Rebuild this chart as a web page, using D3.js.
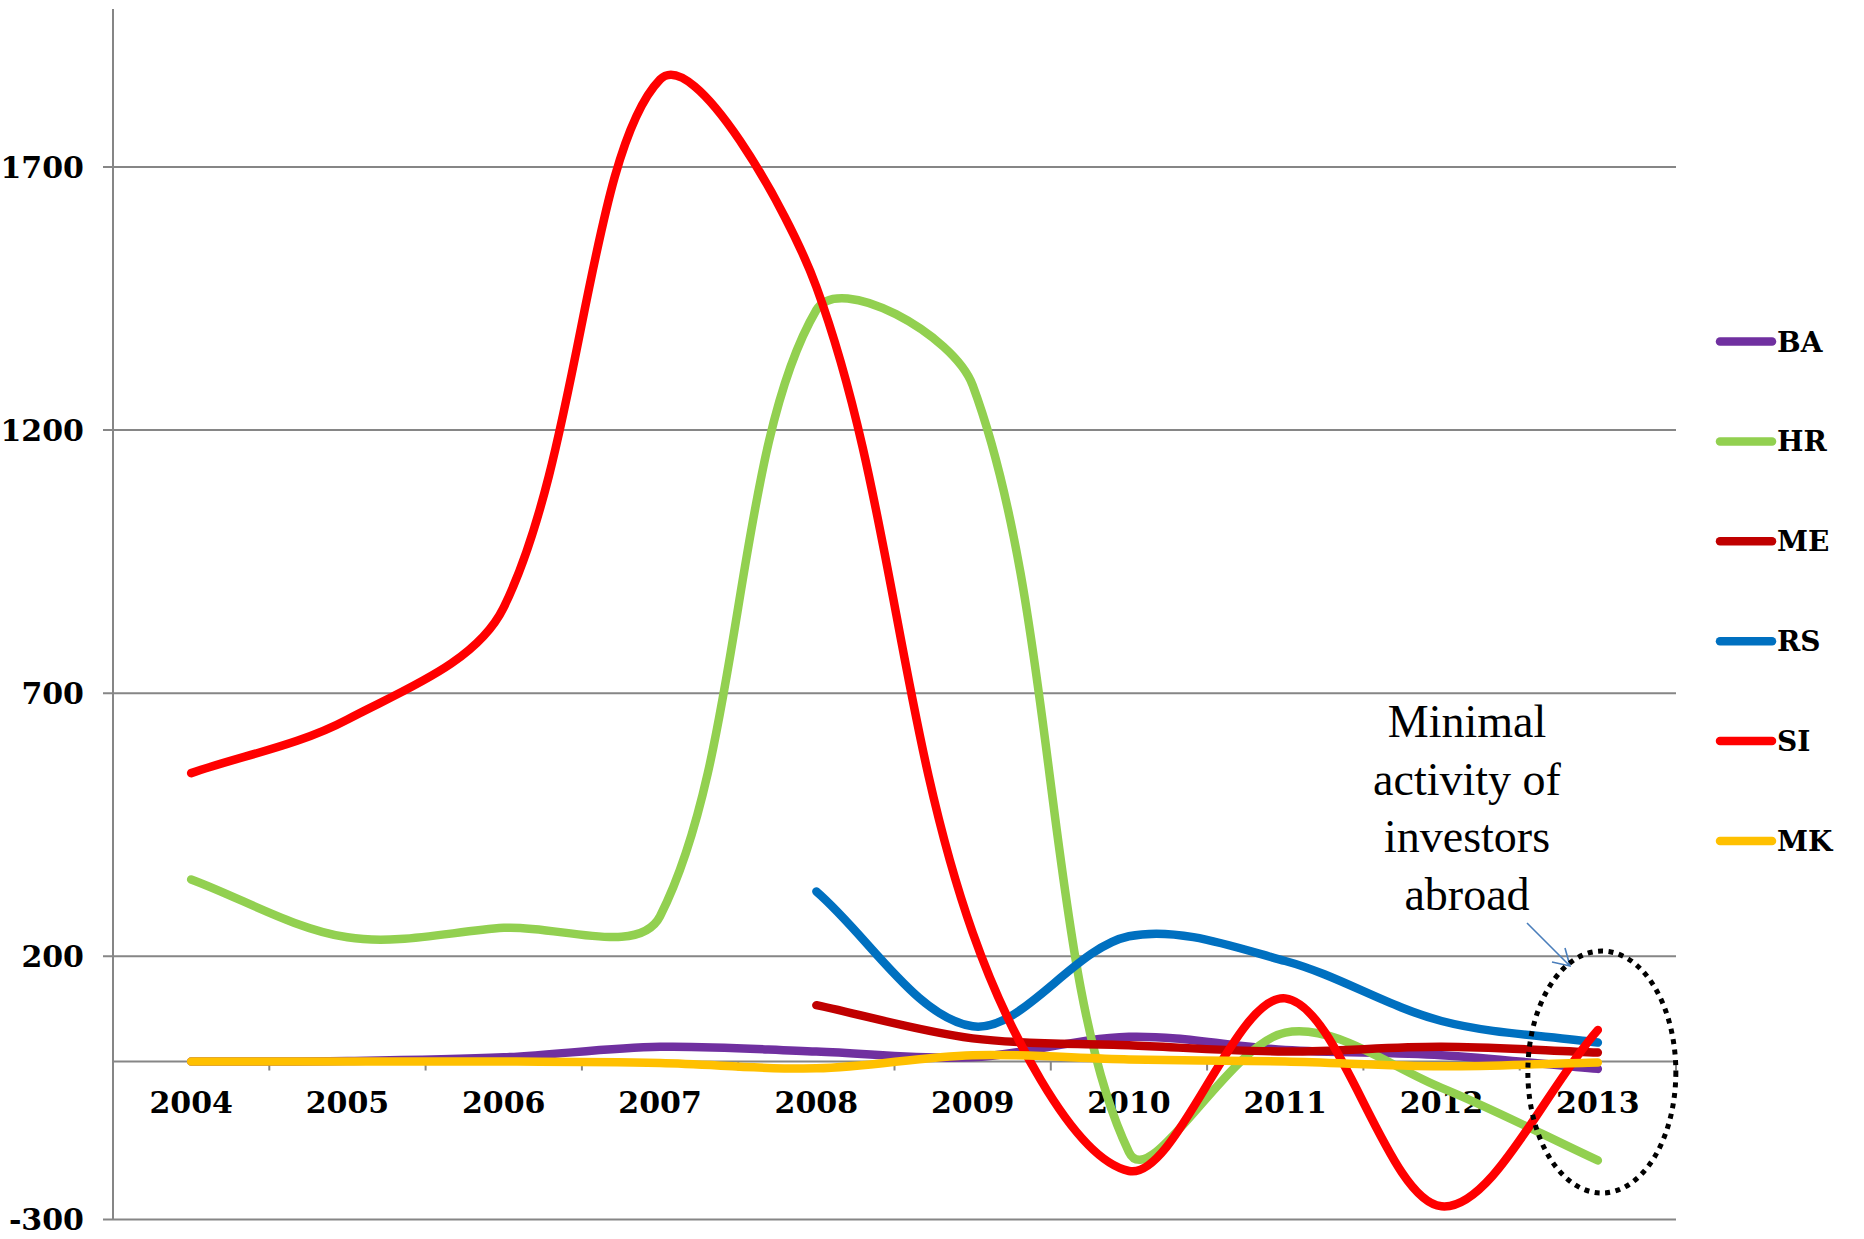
<!DOCTYPE html>
<html>
<head>
<meta charset="utf-8">
<script src="https://cdn.jsdelivr.net/npm/d3@7"></script>
<style>
  html, body { margin: 0; padding: 0; background: #fff; }
  svg { display: block; }
</style>
</head>
<body>
<svg id="chart" width="1864" height="1239"></svg>
<script>
// Outward investment flows by country, 2004-2013
const years = [2004, 2005, 2006, 2007, 2008, 2009, 2010, 2011, 2012, 2013];
const seriesNames = ["BA", "HR", "ME", "RS", "SI", "MK"];
const seriesColors = ["#7030A0", "#92D050", "#C00000", "#0070C0", "#FF0000", "#FFC000"];

const BA = [0, 1, 8, 28, 19, 8, 47, 22, 12, -14];
const HR = [346, 236, 254, 276, 1428, 1285, -172, 55, -50, -188];
const ME = [null, null, null, null, 107, 44, 31, 19, 28, 17];
const RS = [null, null, null, null, 323, 67, 238, 191, 77, 36];
const SI = [548, 650, 863, 1866, 1472, 245, -208, 120, -275, 60];
const MK = [0, 0, 0, -3, -13, 12, 4, 0, -9, -2];

const seriesValues = [BA, HR, ME, RS, SI, MK];
const yTicks = [-300, 200, 700, 1200, 1700];
const yDomain = [-300, 2000];
const noteLines = ["Minimal", "activity of", "investors", "abroad"];

// Layout
const plotLeft = 113, plotRight = 1676, plotTop = 9, plotBottom = 1219.4;
const numFont = "'DejaVu Serif', 'Liberation Serif', serif";

const svg = d3.select("#chart");

const x = d3.scaleBand().domain(years).range([plotLeft, plotRight]).padding(0);
const cx = yr => x(yr) + x.bandwidth() / 2;
const y = d3.scaleLinear().domain(yDomain).range([plotBottom, plotTop]);

// Smoothed line: cubic Bezier segments whose handles scale with the
// neighbouring segment lengths (spreadsheet-style smoothing).
function SmoothCurve(context) { this._context = context; }
SmoothCurve.prototype = {
  areaStart() {}, areaEnd() {},
  lineStart() { this._pts = []; },
  point(px, py) { this._pts.push([+px, +py]); },
  lineEnd() {
    const p = this._pts, c = this._context, n = p.length;
    if (!n) return;
    c.moveTo(p[0][0], p[0][1]);
    if (n === 1) { c.lineTo(p[0][0], p[0][1]); return; }
    const dist = (a, b) => Math.hypot(b[0] - a[0], b[1] - a[1]);
    for (let i = 0; i < n - 1; i++) {
      const p0 = p[Math.max(i - 1, 0)], p1 = p[i], p2 = p[i + 1], p3 = p[Math.min(i + 2, n - 1)];
      const d01 = dist(p0, p1), d12 = dist(p1, p2), d23 = dist(p2, p3);
      const f1 = d12 / (3 * (d01 + d12));
      const f2 = d12 / (3 * (d12 + d23));
      c.bezierCurveTo(
        p1[0] + f1 * (p2[0] - p0[0]), p1[1] + f1 * (p2[1] - p0[1]),
        p2[0] - f2 * (p3[0] - p1[0]), p2[1] - f2 * (p3[1] - p1[1]),
        p2[0], p2[1]);
    }
  }
};
const curveSmooth = ctx => new SmoothCurve(ctx);

// Horizontal gridlines with short outer ticks
const grid = svg.append("g");
grid.selectAll("line")
  .data(yTicks)
  .join("line")
  .attr("x1", plotLeft - 10).attr("x2", plotRight)
  .attr("y1", d => y(d)).attr("y2", d => y(d))
  .attr("stroke", "#868686").attr("stroke-width", 2);

// Vertical value axis
svg.append("line")
  .attr("x1", plotLeft).attr("x2", plotLeft)
  .attr("y1", plotTop).attr("y2", plotBottom)
  .attr("stroke", "#868686").attr("stroke-width", 2);

// Category axis along zero
svg.append("line")
  .attr("x1", plotLeft).attr("x2", plotRight)
  .attr("y1", y(0)).attr("y2", y(0))
  .attr("stroke", "#868686").attr("stroke-width", 2);

const catTicks = years.map(yr => x(yr)).concat([plotRight]);
svg.append("g").selectAll("line")
  .data(catTicks)
  .join("line")
  .attr("x1", d => d).attr("x2", d => d)
  .attr("y1", y(0)).attr("y2", y(0) + 9)
  .attr("stroke", "#868686").attr("stroke-width", 2);

// Value labels
svg.append("g").selectAll("text")
  .data(yTicks)
  .join("text")
  .attr("x", 84)
  .attr("y", d => y(d) + 11)
  .attr("text-anchor", "end")
  .attr("font-family", numFont)
  .attr("font-weight", "bold")
  .attr("font-size", 30)
  .attr("fill", "#000")
  .text(d => d);

// Year labels
svg.append("g").selectAll("text")
  .data(years)
  .join("text")
  .attr("x", d => cx(d))
  .attr("y", y(0) + 51)
  .attr("text-anchor", "middle")
  .attr("font-family", numFont)
  .attr("font-weight", "bold")
  .attr("font-size", 30)
  .attr("fill", "#000")
  .text(d => d);

// Series lines
const line = d3.line()
  .defined(d => d.v !== null)
  .x(d => cx(d.year))
  .y(d => y(d.v))
  .curve(curveSmooth);

seriesNames.forEach((name, i) => {
  const pts = years.map((yr, j) => ({ year: yr, v: seriesValues[i][j] }));
  svg.append("path")
    .datum(pts)
    .attr("d", line)
    .attr("fill", "none")
    .attr("stroke", seriesColors[i])
    .attr("stroke-width", 8.5)
    .attr("stroke-linecap", "round")
    .attr("stroke-linejoin", "round");
});

// Legend
const legend = svg.append("g");
seriesNames.forEach((name, i) => {
  const ly = 341.5 + i * 99.9;
  legend.append("line")
    .attr("x1", 1720).attr("x2", 1772)
    .attr("y1", ly).attr("y2", ly)
    .attr("stroke", seriesColors[i])
    .attr("stroke-width", 8.5)
    .attr("stroke-linecap", "round");
  legend.append("text")
    .attr("x", 1777).attr("y", ly + 10)
    .attr("font-family", numFont)
    .attr("font-weight", "bold")
    .attr("font-size", 28)
    .attr("fill", "#000")
    .text(name);
});

// Annotation for the last year
const note = svg.append("g");
note.selectAll("text")
  .data(noteLines)
  .join("text")
  .attr("x", 1467)
  .attr("y", (d, i) => 737 + i * 57.7)
  .attr("text-anchor", "middle")
  .attr("font-family", "'Liberation Serif', 'Times New Roman', serif")
  .attr("font-size", 46)
  .attr("fill", "#000")
  .text(d => d);

const arrow = d3.path();
arrow.moveTo(1527, 923);
arrow.lineTo(1570, 966);
arrow.moveTo(1552, 962);
arrow.lineTo(1570, 966);
arrow.lineTo(1565, 948);
note.append("path")
  .attr("d", arrow.toString())
  .attr("fill", "none")
  .attr("stroke", "#4A7EBB")
  .attr("stroke-width", 1.6);

note.append("ellipse")
  .attr("cx", cx(2013) + 4)
  .attr("cy", 1072)
  .attr("rx", 74)
  .attr("ry", 121)
  .attr("fill", "none")
  .attr("stroke", "#000")
  .attr("stroke-width", 5)
  .attr("stroke-dasharray", "5 5.5");
</script>
</body>
</html>
